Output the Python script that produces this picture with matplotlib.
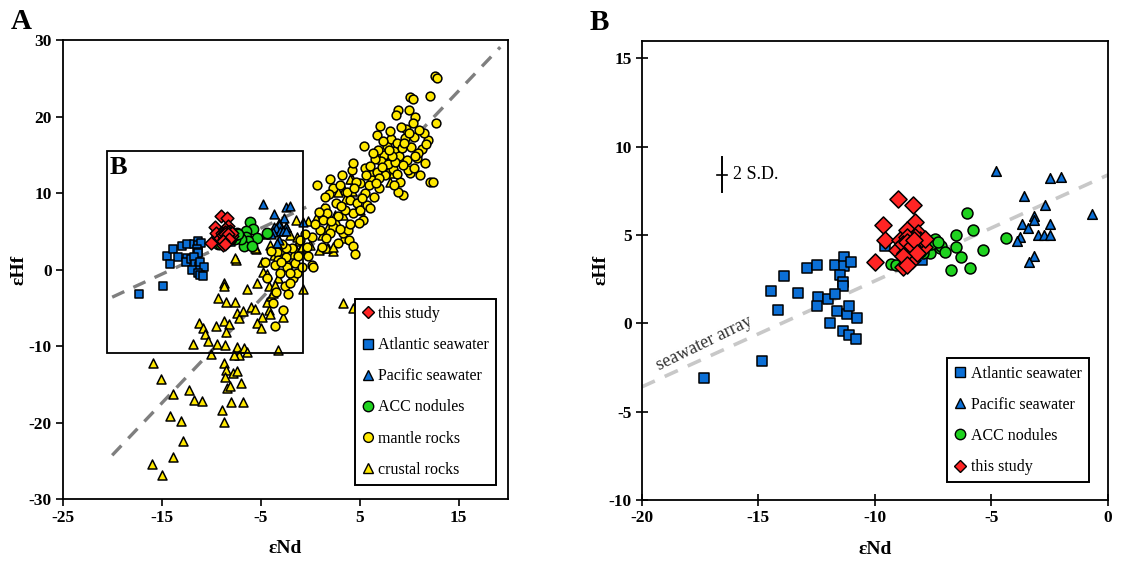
import matplotlib
matplotlib.use("Agg")
import matplotlib.pyplot as plt
from matplotlib.patches import Rectangle
from matplotlib.lines import Line2D

# ---------------- data (eNd, eHf) ----------------
atlantic_seawater = [(-14.45, 1.83), (-13.90, 2.68), (-12.91, 3.12), (-12.46, 3.32), (-11.70, 3.32),
                     (-11.31, 3.74), (-11.31, 3.25), (-11.01, 3.47), (-11.48, 2.74), (-11.36, 2.36),
                     (-11.36, 2.13), (-13.31, 1.70), (-14.17, 0.77), (-12.44, 1.51), (-12.50, 0.98),
                     (-11.99, 1.36), (-11.72, 1.64), (-11.62, 0.72), (-11.20, 0.53), (-11.09, 1.00),
                     (-10.75, 0.32), (-11.92, 0.00), (-11.36, -0.42), (-11.12, -0.66), (-10.82, -0.89),
                     (-14.85, -2.12), (-17.31, -3.12), (-9.56, 4.38), (-7.96, 3.59)]
pacific_seawater = [(-4.79, 8.63), (-2.48, 8.21), (-2.00, 8.31), (-3.62, 7.21), (-2.69, 6.70),
                    (-3.19, 6.08), (-3.19, 5.85), (-3.69, 5.61), (-2.48, 5.61), (-3.41, 5.38),
                    (-0.69, 6.18), (-3.00, 5.00), (-2.76, 5.00), (-2.48, 5.00), (-3.79, 4.87),
                    (-3.91, 4.68), (-3.19, 3.81), (-3.39, 3.49)]
acc_nodules = [(-6.05, 6.25), (-5.78, 5.30), (-6.52, 5.00), (-4.36, 4.83), (-5.34, 4.13),
               (-6.50, 4.32), (-6.31, 3.76), (-6.73, 3.04), (-5.91, 3.11), (-7.40, 4.80),
               (-7.20, 4.25), (-7.15, 4.40), (-7.00, 4.06), (-7.62, 3.97), (-7.95, 3.97),
               (-8.06, 4.05), (-9.30, 3.35), (-9.08, 3.32), (-7.60, 4.50), (-7.30, 4.60),
               (-8.30, 4.20)]
this_study = [(-8.99, 7.02), (-8.37, 6.70), (-9.63, 5.57), (-8.27, 5.76), (-9.56, 4.72),
              (-9.99, 3.49), (-8.77, 3.21), (-8.63, 5.29), (-8.13, 5.10), (-8.91, 4.72),
              (-9.06, 4.15), (-8.49, 4.53), (-7.91, 4.34), (-8.41, 3.59), (-8.70, 3.97),
              (-8.06, 4.72), (-8.27, 4.91), (-8.63, 4.90), (-8.56, 4.20), (-8.77, 4.50),
              (-7.85, 4.80), (-8.60, 4.60), (-8.40, 4.40), (-8.30, 4.70), (-8.20, 4.00),
              (-8.80, 3.80), (-8.60, 3.30)]
mantle_rocks = [(12.6, 25.3), (12.8, 25.0), (10.1, 22.6), (10.4, 22.3), (12.1, 22.7), (12.7, 19.2),
                (8.9, 20.9), (8.7, 20.2), (7.1, 18.8), (10.6, 19.9), (10.4, 19.1), (10.0, 20.8),
                (9.7, 18.4), (6.8, 17.6), (5.4, 16.1), (11.9, 16.9), (11.6, 13.9), (11.1, 12.4),
                (12.1, 11.5), (12.4, 11.4), (9.4, 9.75), (8.9, 10.1), (10.1, 12.6), (9.1, 11.5),
                (10.8, 14.6), (11.3, 15.8), (8.4, 13.2), (6.2, 11.7), (5.5, 13.3), (5.0, 11.3),
                (4.2, 13.0), (4.35, 13.9),
                (7.5, 15.0), (7.8, 16.2), (8.2, 17.0), (8.5, 15.5), (8.8, 16.5), (9.0, 14.8),
                (9.3, 15.9), (9.6, 17.2), (7.2, 14.2), (7.9, 13.8), (8.6, 14.1), (9.8, 14.3),
                (10.2, 16.0), (10.5, 17.3), (6.9, 15.6), (7.4, 16.8), (8.1, 18.1), (9.2, 18.6),
                (6.5, 14.5), (6.0, 13.6), (6.3, 15.2), (10.9, 15.2), (11.5, 17.8), (9.9, 13.0),
                (8.8, 12.5), (7.6, 12.3), (6.8, 12.8), (10.6, 14.9), (11.0, 18.3), (11.7, 16.4),
                (3.7, 10.2), (2.3, 10.6), (3.0, 11.0), (2.6, 8.7), (4.0, 9.1), (4.7, 8.7),
                (4.35, 7.4), (3.5, 7.8), (5.0, 7.8), (5.7, 8.4), (6.0, 8.0), (5.3, 6.5),
                (4.95, 6.1), (2.85, 7.0), (1.9, 9.9), (1.5, 9.5), (0.66, 11.1), (1.5, 8.0),
                (1.7, 7.4), (1.3, 6.5), (2.3, 5.6), (3.35, 4.75), (3.9, 3.9), (4.35, 3.1),
                (4.5, 2.0), (3.8, 5.2), (2.0, 4.8), (1.0, 5.2), (0.5, 6.0), (0.2, 4.2),
                (-0.5, 4.6), (5.5, 10.0), (6.4, 9.5), (4.6, 11.5), (3.2, 12.3), (5.9, 11.0),
                (7.0, 10.6), (4.0, 5.9), (2.8, 3.5), (1.2, 3.0),
                (0.2, 0.6), (0.3, 0.3), (-1.8, 2.8), (-2.4, 1.7), (-3.4, 2.35), (-2.4, 2.8),
                (-1.0, 3.9), (-0.35, 3.0), (-3.3, 1.27), (-3.55, -7.35), (-2.78, -5.26),
                (-3.79, -4.31), (-4.33, -1.12), (-2.55, -2.13), (-1.71, -1.12), (-1.3, -0.47),
                (-2.31, 0.39), (-1.5, 0.9), (-3.0, -0.5), (-2.0, -1.8), (-3.6, 0.6), (-1.2, 1.8),
                (-0.8, 0.3), (-2.8, 3.3), (-4.0, 2.4), (-3.5, -2.9), (-2.2, -3.2), (-4.6, 1.0),
                (7.3, 13.4), (8.3, 14.8), (9.5, 16.6), (10.0, 17.9), (8.0, 15.6), (7.0, 12.0),
                (5.2, 9.3), (3.1, 8.3), (2.1, 6.4), (4.4, 10.6), (6.6, 11.3), (5.6, 12.4),
                (8.5, 11.1), (10.5, 13.3), (9.4, 13.7), (3.0, 5.3), (1.6, 4.1), (-0.2, 1.8),
                (-2.0, -0.4), (-2.9, 1.0), (0.9, 7.5), (2.0, 11.8)]
crustal_rocks = [(-7.53, 1.27), (-8.71, -1.78), (-8.71, -2.13), (-6.35, -2.56), (-5.34, -1.70),
                 (-4.74, -0.26), (-4.39, -0.56), (-4.19, -2.13), (-9.34, -3.74), (-8.50, -4.18),
                 (-7.60, -4.18), (-7.36, -5.70), (-7.16, -6.35), (-6.76, -5.36), (-6.01, -4.83),
                 (-5.58, -5.17), (-4.90, -6.22), (-5.40, -7.00), (-5.00, -7.57), (-4.19, -5.26),
                 (-4.06, -5.79), (-4.39, -4.18), (-3.99, -3.44), (-3.73, -3.08), (-2.78, -6.14),
                 (-0.70, -2.56), (-3.22, -1.12), (-3.55, -2.00), (-11.20, -6.92), (-10.80, -7.66),
                 (-10.63, -8.40), (-10.29, -9.27), (-9.51, -7.35), (-8.71, -6.70), (-8.17, -7.13),
                 (-8.50, -8.10), (-9.44, -9.71), (-8.61, -9.84), (-11.87, -9.75), (-10.05, -11.05),
                 (-7.36, -10.14), (-6.69, -10.27), (-6.35, -10.71), (-7.16, -11.14), (-7.67, -11.14),
                 (-3.22, -10.49), (-15.85, -12.23), (-15.10, -14.32), (-13.83, -16.24),
                 (-14.16, -19.11), (-13.08, -19.72), (-12.82, -22.34), (-13.83, -24.43),
                 (-16.01, -25.38), (-15.00, -26.82), (-12.24, -15.72), (-11.70, -17.02),
                 (-10.96, -17.11), (-8.67, -12.15), (-8.53, -13.10), (-8.61, -13.98), (-7.77, -13.54),
                 (-7.42, -13.19), (-7.02, -14.84), (-8.43, -15.50), (-8.10, -15.19), (-8.00, -17.24),
                 (-6.76, -17.24), (-8.94, -18.33), (-8.71, -19.86), (3.34, -4.31), (4.35, -5.05),
                 (-5.5, 2.7), (-4.58, 4.66), (-1.41, 6.5), (-0.19, 6.3), (0.57, 6.7), (1.18, 4.5),
                 (1.80, 5.6), (2.6, 6.3), (3.3, 7.1), (4.2, 11.9), (3.4, 10.4), (4.9, 8.4),
                 (6.3, 11.5), (5.0, 7.8), (-1.1, 3.7), (-1.5, 2.8), (-2.0, 4.5), (-2.43, 5.6),
                 (-3.2, 3.4), (-2.9, 2.6), (-3.65, 1.9), (-4.1, 3.2), (-4.9, 1.05), (-2.6, 1.7),
                 (-2.2, 0.9), (-1.7, 2.1), (-1.0, 2.6), (-0.05, 3.2), (0.87, 2.6), (1.8, 2.8),
                 (2.3, 2.4), (8.1, 11.4), (7.9, 12.9), (4.0, 11.9), (6.1, 12.7), (8.4, 12.6),
                 (4.2, 10.3), (2.8, 10.1), (3.5, 9.2), (1.3, 8.0), (2.5, 7.1), (7.9, 14.2),
                 (6.6, 14.9), (-1.3, 4.3), (-0.85, 2.9), (1.67, 2.8), (2.35, 3.0), (3.3, 4.1),
                 (-7.6, 1.5), (-5.6, 2.8), (-4.57, 4.75)]

# reference arrays: eHf = slope * eNd + intercept
seawater_array = (0.6, 8.4)
terrestrial_array = (1.36, 2.95)

# ---------------- styling ----------------
SERIF = ["Liberation Serif", "DejaVu Serif"]
plt.rcParams["font.family"] = SERIF
plt.rcParams["axes.unicode_minus"] = False
C_BLUE = "#0b6fd6"
C_RED = "#ff2424"
C_GREEN = "#1fd21f"
C_YEL = "#ffe800"
EW = 1.1

fig = plt.figure(figsize=(11.44, 5.62), dpi=100)
axA = fig.add_axes([0.0548, 0.1116, 0.3894, 0.8173])
axB = fig.add_axes([0.5609, 0.1103, 0.4076, 0.8173])


def xy(pts):
    return [p[0] for p in pts], [p[1] for p in pts]


# ---------------- panel A ----------------
ax = axA
ax.set_xlim(-25, 20)
ax.set_ylim(-30, 30)
xs = [-20, 19.2]
m, b = terrestrial_array
ax.plot(xs, [m * x + b for x in xs], color="#7f7f7f", lw=2.4, dashes=(4, 3), zorder=1)
xs = [-20, -0.4]
m, b = seawater_array
ax.plot(xs, [m * x + b for x in xs], color="#7f7f7f", lw=2.4, dashes=(4, 3), zorder=1)

x, y = xy(crustal_rocks)
ax.scatter(x, y, marker="^", s=42, c=C_YEL, edgecolors="k", linewidths=EW, zorder=2)
x, y = xy(mantle_rocks)
ax.scatter(x, y, marker="o", s=40, c=C_YEL, edgecolors="k", linewidths=EW, zorder=2)
x, y = xy(atlantic_seawater)
ax.scatter(x, y, marker="s", s=34, c=C_BLUE, edgecolors="k", linewidths=EW, zorder=3)
x, y = xy(pacific_seawater)
ax.scatter(x, y, marker="^", s=40, c=C_BLUE, edgecolors="k", linewidths=EW, zorder=3)
x, y = xy(acc_nodules)
ax.scatter(x, y, marker="o", s=55, c=C_GREEN, edgecolors="k", linewidths=EW, zorder=4)
x, y = xy(this_study)
ax.scatter(x, y, marker="D", s=42, c=C_RED, edgecolors="k", linewidths=EW, zorder=5)

ax.add_patch(Rectangle((-20.5, -10.9), 19.75, 26.45, fill=False, ec="k", lw=1.3, zorder=6))
ax.text(-19.4, 13.3, "B", fontsize=19, fontweight="bold", ha="center", va="center", zorder=7)

ax.set_xticks([-25, -15, -5, 5, 15])
ax.set_yticks(range(-30, 31, 10))
ax.tick_params(direction="out", length=5, width=1.2, labelsize=12.5, pad=3)

handles = [
    Line2D([], [], ls="none", marker="D", ms=6, mfc=C_RED, mec="k", mew=1.0, label="this study"),
    Line2D([], [], ls="none", marker="s", ms=6.5, mfc=C_BLUE, mec="k", mew=1.0, label="Atlantic seawater"),
    Line2D([], [], ls="none", marker="^", ms=7, mfc=C_BLUE, mec="k", mew=1.0, label="Pacific seawater"),
    Line2D([], [], ls="none", marker="o", ms=7.5, mfc=C_GREEN, mec="k", mew=1.0, label="ACC nodules"),
    Line2D([], [], ls="none", marker="o", ms=7, mfc=C_YEL, mec="k", mew=1.0, label="mantle rocks"),
    Line2D([], [], ls="none", marker="^", ms=7, mfc=C_YEL, mec="k", mew=1.0, label="crustal rocks"),
]
legA = ax.legend(handles=handles, loc="lower right", bbox_to_anchor=(0.9726, 0.0311),
                 borderaxespad=0, frameon=True, fancybox=False, framealpha=1,
                 edgecolor="k", fontsize=11.5, handlelength=0.7, handletextpad=0.3,
                 labelspacing=0.95, borderpad=0.45)
legA.get_frame().set_linewidth(1.4)
legA.set_zorder(10)

# ---------------- panel B ----------------
ax = axB
ax.set_xlim(-20, 0)
ax.set_ylim(-10, 16)
xs = [-20, 0]
m, b = seawater_array
ax.plot(xs, [m * x + b for x in xs], color="#c8c8c8", lw=2.6, dashes=(4, 3), zorder=1)
ax.text(-17.3, -1.15, "seawater array", fontsize=13, color="#333333", rotation=26,
        ha="center", va="center", rotation_mode="anchor")

x, y = xy(atlantic_seawater)
ax.scatter(x, y, marker="s", s=44, c=C_BLUE, edgecolors="k", linewidths=EW, zorder=3)
x, y = xy(pacific_seawater)
ax.scatter(x, y, marker="^", s=48, c=C_BLUE, edgecolors="k", linewidths=EW, zorder=3)
x, y = xy(acc_nodules)
ax.scatter(x, y, marker="o", s=62, c=C_GREEN, edgecolors="k", linewidths=EW, zorder=4)
x, y = xy(this_study)
ax.scatter(x, y, marker="D", s=76, c=C_RED, edgecolors="k", linewidths=EW, zorder=5)

# 2 S.D. error bar
ax.plot([-16.57, -16.57], [7.45, 9.4], color="k", lw=1.4)
ax.plot([-16.78, -16.36], [8.4, 8.4], color="k", lw=1.2)
ax.text(-16.1, 8.4, "2 S.D.", fontsize=13, ha="left", va="center")

ax.set_xticks([-20, -15, -10, -5, 0])
ax.set_yticks(range(-10, 16, 5))
ax.tick_params(direction="inout", length=8, width=1.2, labelsize=12.5, pad=3)

handles = [
    Line2D([], [], ls="none", marker="s", ms=6.5, mfc=C_BLUE, mec="k", mew=1.0, label="Atlantic seawater"),
    Line2D([], [], ls="none", marker="^", ms=7, mfc=C_BLUE, mec="k", mew=1.0, label="Pacific seawater"),
    Line2D([], [], ls="none", marker="o", ms=7.5, mfc=C_GREEN, mec="k", mew=1.0, label="ACC nodules"),
    Line2D([], [], ls="none", marker="D", ms=6, mfc=C_RED, mec="k", mew=1.0, label="this study"),
]
legB = ax.legend(handles=handles, loc="lower right", bbox_to_anchor=(0.9586, 0.0385),
                 borderaxespad=0, frameon=True, fancybox=False, framealpha=1,
                 edgecolor="k", fontsize=11.5, handlelength=0.7, handletextpad=0.3,
                 labelspacing=0.95, borderpad=0.45)
legB.get_frame().set_linewidth(1.4)
legB.set_zorder(10)

for ax, ylx in ((axA, -0.098), (axB, -0.088)):
    for sp in ax.spines.values():
        sp.set_linewidth(1.3)
    for lab in ax.get_xticklabels() + ax.get_yticklabels():
        lab.set_fontweight("bold")
    ax.set_xlabel("εNd", fontsize=14, fontweight="bold", va="center")
    ax.set_ylabel("εHf", fontsize=14, fontweight="bold", va="center")
    ax.xaxis.set_label_coords(0.5, -0.107)
    ax.yaxis.set_label_coords(ylx, 0.5)

fig.text(0.019, 0.962, "A", fontsize=21, fontweight="bold", ha="center", va="center")
fig.text(0.524, 0.960, "B", fontsize=21, fontweight="bold", ha="center", va="center")

fig.savefig("out.png", dpi=100)
